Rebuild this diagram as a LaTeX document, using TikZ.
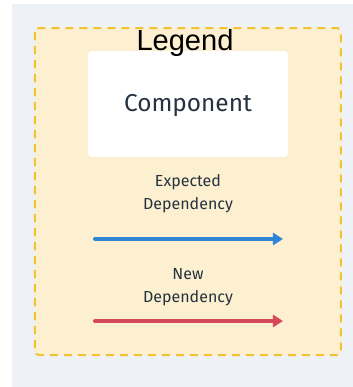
\documentclass[tikz,border=0pt]{standalone}
\usepackage{fontspec}
\setmainfont{Fira Sans}
\newfontfamily\legendfont{Liberation Sans}
\usetikzlibrary{arrows.meta,positioning}

\definecolor{pagegrey}{HTML}{EEF1F5}
\definecolor{legendfill}{HTML}{FDF0D0}
\definecolor{legendline}{HTML}{F3C232}
\definecolor{textdark}{HTML}{25323F}
\definecolor{expblue}{HTML}{2F86D6}
\definecolor{newred}{HTML}{D5495B}

\tikzset{
	legendbox/.style={draw=legendline, fill=legendfill, line width=1.5pt, dash pattern=on 6pt off 4.5pt, rounded corners=3pt},
	compbox/.style={fill=white, rounded corners=3pt, inner sep=0pt, minimum width=150pt, minimum height=79.5pt},
	deptext/.style={text=textdark, font=\fontsize{12}{17.3}\selectfont, align=center},
	deparrow/.style={line width=3pt, line cap=round, -{Triangle[length=7.5pt,width=9pt]}}
}

\begin{document}
\begin{tikzpicture}[x=0.75pt,y=-0.75pt]
			\useasboundingbox (0,0) rectangle (353,387);
			\fill[pagegrey] (12,4) rectangle (353,387);
			\draw[legendbox] (35,28) rectangle (341,355);
			
			\node[compbox] (comp) at (188,104) {};
			\node[text=textdark, font=\fontsize{18.3}{22}\selectfont] (complabel) at (188,106) {Component};
			\node[font=\legendfont\fontsize{21.8}{26}\selectfont, anchor=base] (title) at (185,50) {Legend};
			
			\node[deptext] (exp) at (188,194) {Expected\\Dependency};
			\coordinate (exps) at (95,239);
			\coordinate (expe) at (283,239);
			\draw[deparrow, expblue] (exps) -- (expe);
			
			\node[deptext] (new) at (188,287) {New\\Dependency};
			\coordinate (news) at (95,321);
			\coordinate (newe) at (283,321);
			\draw[deparrow, newred] (news) -- (newe);
	\end{tikzpicture}
\end{document}
